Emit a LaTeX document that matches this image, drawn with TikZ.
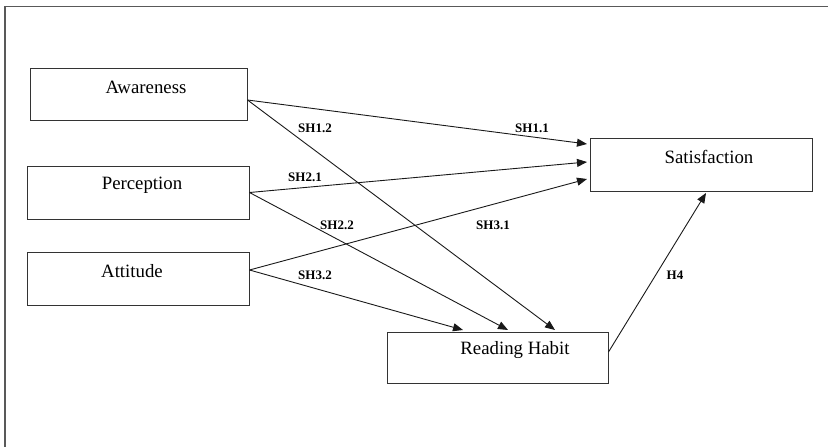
\documentclass[tikz,border=0pt]{standalone}
\usepackage{fontspec}
\setmainfont{Liberation Serif}
\usetikzlibrary{arrows.meta,calc}
\begin{document}
\begin{tikzpicture}[x=1pt,y=-1pt,
  box/.style={draw=black!80, line width=1pt, rectangle, inner sep=0pt},
  lbl/.style={font=\fontsize{18.8}{22}\selectfont, inner sep=0pt},
  hyp/.style={font=\fontsize{13}{15}\selectfont\bfseries, inner sep=0pt},
  arr/.style={draw=black!90, line width=0.9pt, -{Triangle[length=10pt,width=8pt]}}]
\useasboundingbox (0,0) rectangle (828,447);
\draw[black!65, line width=1.2pt] (5,447) -- (5,6.5) -- (828,6.5);

\node[box, minimum width=217pt, minimum height=52pt,
  label={[lbl,xshift=7.5pt,yshift=7pt]center:Awareness}] (aw) at (138.5,94) {};
\node[box, minimum width=222pt, minimum height=53pt,
  label={[lbl,xshift=4pt,yshift=7.5pt]center:Perception}] (pe) at (138,192.5) {};
\node[box, minimum width=222pt, minimum height=53pt,
  label={[lbl,xshift=-6pt,yshift=7.5pt]center:Attitude}] (at) at (138,278.5) {};
\node[box, minimum width=221pt, minimum height=51pt,
  label={[lbl,xshift=17.5pt,yshift=7.5pt]center:Reading Habit}] (rh) at (497.5,357.5) {};
\node[box, minimum width=222pt, minimum height=53pt,
  label={[lbl,xshift=8pt,yshift=7.5pt]center:Satisfaction}] (sa) at (701,164.5) {};

\coordinate (awo) at ($(aw.east)+(0,6)$);
\coordinate (peo) at (pe.east);
\coordinate (ato) at ($(at.east)+(0,-8.5)$);
\coordinate (rho) at ($(rh.east)+(0,-5.5)$);
\coordinate (sa1) at ($(sa.west)+(-2.5,-20.5)$);
\coordinate (sa2) at ($(sa.west)+(-2.5,-2.5)$);
\coordinate (sa3) at ($(sa.west)+(-2.5,14.5)$);
\coordinate (sa4) at ($(sa.south)+(5,1.5)$);
\coordinate (rh1) at ($(rh.north)+(-34.5,-1.5)$);
\coordinate (rh2) at ($(rh.north)+(10.5,-1.5)$);
\coordinate (rh3) at ($(rh.north)+(57.5,-1.5)$);

\draw[arr] (awo) -- (sa1);
\draw[arr] (awo) -- (rh3);
\draw[arr] (peo) -- (sa2);
\draw[arr] (peo) -- (rh2);
\draw[arr] (ato) -- (sa3);
\draw[arr] (ato) -- (rh1);
\draw[arr] (rho) -- (sa4);

\node[hyp] (h12) at (315,128) {SH1.2};
\node[hyp] (h11) at (532,128) {SH1.1};
\node[hyp] (h21) at (305,177) {SH2.1};
\node[hyp] (h22) at (337,225.5) {SH2.2};
\node[hyp] (h31) at (493,225.5) {SH3.1};
\node[hyp] (h32) at (315,275) {SH3.2};
\node[hyp] (h4) at (675,275) {H4};
\end{tikzpicture}
\end{document}
